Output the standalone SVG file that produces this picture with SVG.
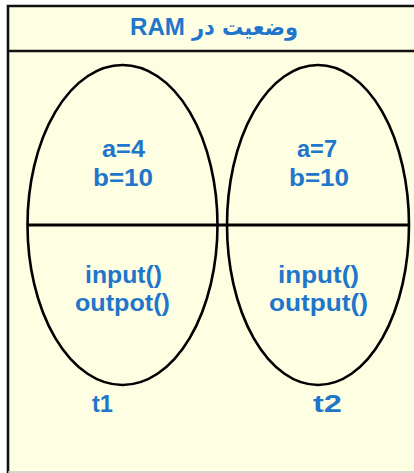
<svg xmlns="http://www.w3.org/2000/svg" width="414" height="473" viewBox="0 0 414 473">
<style>
.lbl{font-family:"Liberation Sans",Arial,sans-serif;font-weight:bold;font-size:23.5px;fill:#2176CC;text-anchor:middle}
.fa{font-family:"DejaVu Sans","Noto Sans",sans-serif;font-weight:bold;font-size:23px;fill:#2176CC;text-anchor:middle}
.ell{fill:none;stroke:#000;stroke-width:2.6}
.frame{stroke:#111;stroke-width:2.6;fill:none}
</style>
<rect x="0" y="0" width="414" height="473" fill="#ffffff"/>
<rect x="8" y="6" width="406" height="466" fill="#FEFEE3"/>
<g id="frame">
<path class="frame" d="M8,473 V6 H414"/>
<line class="frame" x1="8" y1="51" x2="414" y2="51"/>
<line x1="8" y1="472" x2="414" y2="472" stroke="#c8c8c8" stroke-width="1.5"/>
</g>
<g id="title">
<text class="lbl" x="157.5" y="35" textLength="55" lengthAdjust="spacingAndGlyphs">RAM</text>
<text class="fa" x="245" y="35" textLength="106" lengthAdjust="spacingAndGlyphs" direction="rtl">وضعیت در</text>
</g>
<g id="connectors">
<line x1="27" y1="225" x2="409" y2="225" stroke="#000" stroke-width="3.2"/>
</g>
<g id="t1">
<ellipse class="ell" cx="122.5" cy="225" rx="95" ry="160"/>
<text class="lbl" x="123.5" y="157" textLength="43" lengthAdjust="spacingAndGlyphs">a=4</text>
<text class="lbl" x="123" y="186" textLength="60" lengthAdjust="spacingAndGlyphs">b=10</text>
<text class="lbl" x="123.5" y="283" textLength="77" lengthAdjust="spacingAndGlyphs">input()</text>
<text class="lbl" x="122.5" y="311" textLength="95" lengthAdjust="spacingAndGlyphs">outpot()</text>
<text class="lbl" x="102.5" y="412" textLength="21" lengthAdjust="spacingAndGlyphs">t1</text>
</g>
<g id="t2">
<ellipse class="ell" cx="318" cy="225" rx="91" ry="160"/>
<text class="lbl" x="317" y="157" textLength="40" lengthAdjust="spacingAndGlyphs">a=7</text>
<text class="lbl" x="319" y="186" textLength="60" lengthAdjust="spacingAndGlyphs">b=10</text>
<text class="lbl" x="318.5" y="283" textLength="81" lengthAdjust="spacingAndGlyphs">input()</text>
<text class="lbl" x="318.5" y="311" textLength="99" lengthAdjust="spacingAndGlyphs">output()</text>
<text class="lbl" x="327.5" y="412" textLength="29" lengthAdjust="spacingAndGlyphs">t2</text>
</g>
</svg>
